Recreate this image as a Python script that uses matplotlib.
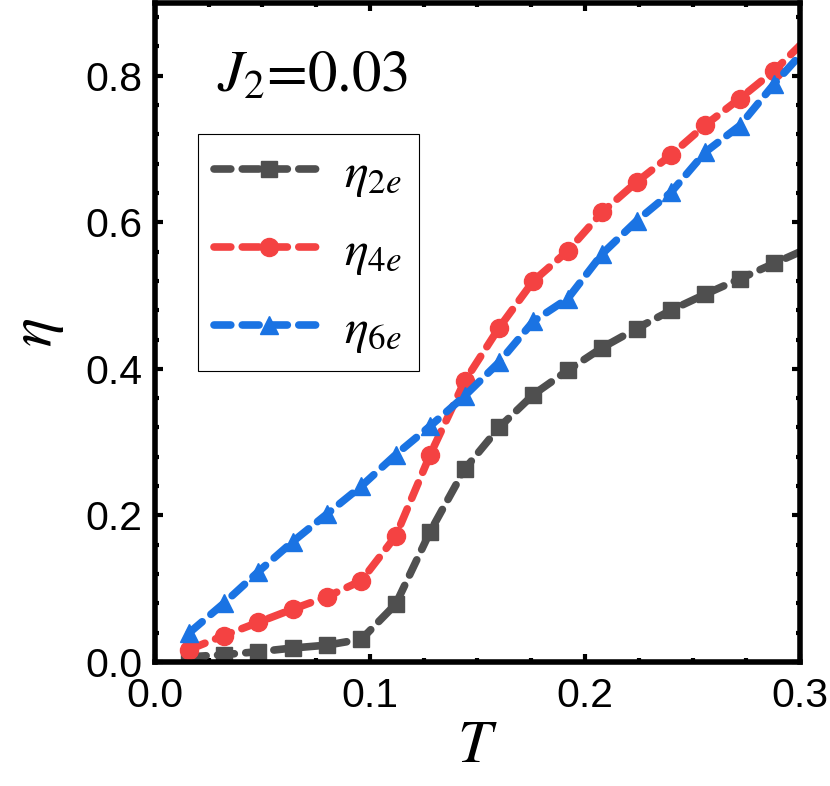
import matplotlib
matplotlib.use("Agg")
import matplotlib.pyplot as plt
from matplotlib.ticker import MultipleLocator

plt.rcParams['font.family'] = ['Liberation Sans', 'DejaVu Sans']
plt.rcParams['mathtext.fontset'] = 'stix'

# temperature grid and order parameters
T = [0.016, 0.032, 0.048, 0.064, 0.080, 0.096, 0.112, 0.128, 0.144, 0.160,
     0.176, 0.192, 0.208, 0.224, 0.240, 0.256, 0.272, 0.288, 0.304]
eta_2e = [0.007, 0.010, 0.014, 0.019, 0.023, 0.031, 0.079, 0.178, 0.263, 0.320,
          0.365, 0.398, 0.429, 0.455, 0.480, 0.502, 0.523, 0.544, 0.565]
eta_4e = [0.017, 0.036, 0.054, 0.072, 0.089, 0.111, 0.172, 0.283, 0.383, 0.456,
          0.520, 0.561, 0.614, 0.655, 0.692, 0.733, 0.769, 0.807, 0.853]
eta_6e = [0.040, 0.080, 0.123, 0.164, 0.202, 0.240, 0.283, 0.322, 0.363, 0.409,
          0.465, 0.496, 0.557, 0.602, 0.641, 0.696, 0.732, 0.789, 0.841]

series = [
    (eta_2e, r'$\eta_{2e}$', '#4f4f4f', 's', 11.5),
    (eta_4e, r'$\eta_{4e}$', '#f44242', 'o', 13),
    (eta_6e, r'$\eta_{6e}$', '#1a73e3', '^', 13.5),
]

fig = plt.figure(figsize=(8.3, 7.86), dpi=100)
ax = fig.add_axes([0.1867, 0.1578, 0.7772, 0.839])

for y, lab, c, m, ms in series:
    line, = ax.plot(T, y, color=c, marker=m, markersize=ms, lw=5.5,
                    label=lab, dash_capstyle='round', solid_capstyle='round')
    line.set_dashes((2.2, 1.5))

ax.set_xlim(0, 0.3)
ax.set_ylim(0, 0.9)
ax.xaxis.set_minor_locator(MultipleLocator(0.025))
ax.yaxis.set_minor_locator(MultipleLocator(0.04))
ax.set_xticks([0, 0.1, 0.2, 0.3])
ax.set_xticklabels(['0.0', '0.1', '0.2', '0.3'])
ax.set_yticks([0, 0.2, 0.4, 0.6, 0.8])
ax.set_yticklabels(['0.0', '0.2', '0.4', '0.6', '0.8'])

for s in ax.spines.values():
    s.set_linewidth(4)
ax.tick_params(which='both', direction='in', top=True, right=True, width=3)
ax.tick_params(which='major', length=6, labelsize=29.5)
ax.tick_params(which='minor', length=3)
ax.tick_params(axis='y', pad=9)
ax.tick_params(axis='x', pad=11)

ax.set_xlabel(r'$T$', fontsize=44, labelpad=2)
ax.set_ylabel(r'$\eta$', fontsize=44, labelpad=14)

ax.text(0.096, 0.865, r'$J_2$=0.03', transform=ax.transAxes, fontsize=42.5,
        family='STIXGeneral', va='baseline')

leg = ax.legend(loc='upper left', bbox_to_anchor=(0.0667, 0.80), borderaxespad=0,
                fontsize=36, handlelength=2.2, labelspacing=0.6, fancybox=False,
                edgecolor='black', framealpha=1, borderpad=0.33, handletextpad=0.4)
leg.get_frame().set_linewidth(0.8)

fig.savefig('out.png', dpi=100)
